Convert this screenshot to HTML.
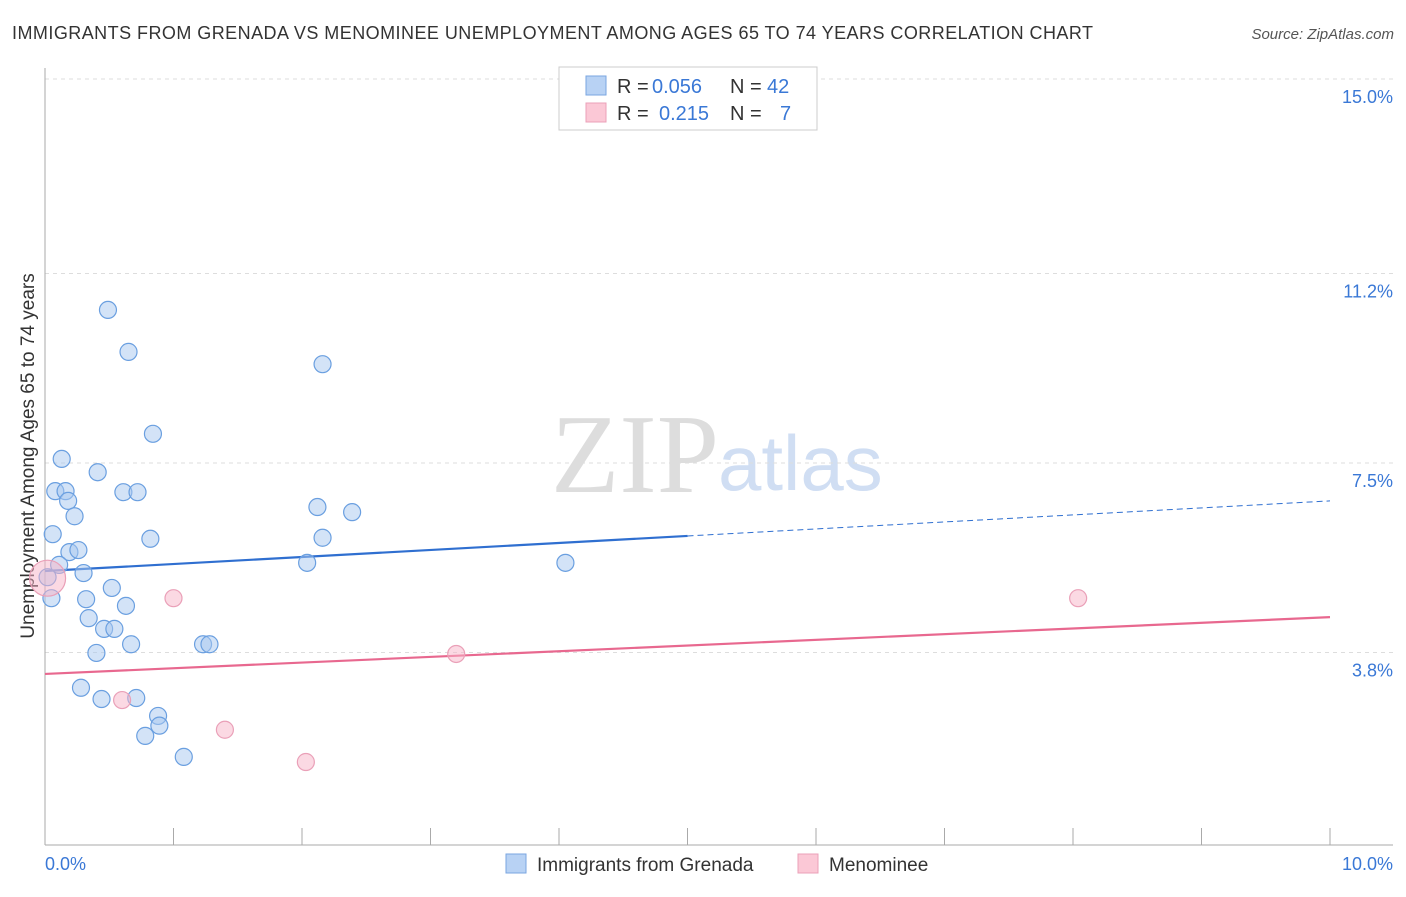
<!DOCTYPE html>
<html><head><meta charset="utf-8"><style>
body{margin:0;background:#fff;font-family:"Liberation Sans",sans-serif;}
svg text{font-family:"Liberation Sans",sans-serif;}
</style></head><body>
<svg id="chart" width="1406" height="892" viewBox="0 0 1406 892">
<text x="12" y="39" font-size="18" fill="#333" textLength="1081">IMMIGRANTS FROM GRENADA VS MENOMINEE UNEMPLOYMENT AMONG AGES 65 TO 74 YEARS CORRELATION CHART</text>
<text x="1394" y="39" font-size="15" fill="#555" font-style="italic" text-anchor="end">Source: ZipAtlas.com</text>
<text transform="translate(34,456) rotate(-90)" font-size="19" fill="#333" text-anchor="middle">Unemployment Among Ages 65 to 74 years</text>
<text x="635" y="492" font-size="112" fill="#ddd" text-anchor="middle" style="font-family:'Liberation Serif',serif">ZIP</text>
<text x="718" y="490" font-size="78" fill="#d0def3">atlas</text>
<g id="grid"></g><g id="axes"></g><g id="lines"></g><g id="points"></g>
<g>
<rect x="559" y="67" width="258" height="63" fill="#fff" stroke="#ccc"/>
<rect x="586" y="76" width="20" height="19" fill="#b8d2f4" stroke="#7aa6e0"/>
<rect x="586" y="103" width="20" height="19" fill="#fbc8d6" stroke="#eba0b8"/>
<text x="617" y="93" font-size="20" fill="#333">R =</text>
<text x="652" y="93" font-size="20" fill="#3a78d6">0.056</text>
<text x="730" y="93" font-size="20" fill="#333">N =</text>
<text x="767" y="93" font-size="20" fill="#3a78d6">42</text>
<text x="617" y="120" font-size="20" fill="#333">R =</text>
<text x="659" y="120" font-size="20" fill="#3a78d6">0.215</text>
<text x="730" y="120" font-size="20" fill="#333">N =</text>
<text x="780" y="120" font-size="20" fill="#3a78d6">7</text>
</g>
<g>
<rect x="506" y="854" width="20" height="19" fill="#b8d2f4" stroke="#7aa6e0"/>
<text x="537" y="871" font-size="19" fill="#333">Immigrants from Grenada</text>
<rect x="798" y="854" width="20" height="19" fill="#fbc8d6" stroke="#eba0b8"/>
<text x="829" y="871" font-size="19" fill="#333">Menominee</text>
</g>
</svg>
<script>
const yTicks=[15.0,11.2,7.5,3.8];
const yTickLabels=["15.0%","11.2%","7.5%","3.8%"];
const xLabels=["0.0%","10.0%"];
const blueX=[0.49,0.65,2.16,0.84,0.13,0.41,0.08,0.16,0.61,0.72,0.18,0.23,2.12,2.39,0.06,0.82,2.16,0.19,0.26,0.11,2.04,4.05,0.30,0.02,0.52,0.05,0.32,0.63,0.34,0.46,0.54,0.67,1.23,1.28,0.40,0.28,0.44,0.71,0.88,0.89,0.78,1.08];
const blueY=[10.49,9.67,9.43,8.07,7.58,7.32,6.95,6.95,6.93,6.93,6.76,6.46,6.64,6.54,6.11,6.02,6.04,5.76,5.80,5.51,5.55,5.55,5.35,5.27,5.06,4.86,4.84,4.71,4.47,4.26,4.26,3.96,3.96,3.96,3.79,3.11,2.89,2.91,2.56,2.37,2.17,1.76];
const pinkX=[0.02,1.00,3.20,8.04,0.60,1.40,2.03];
const pinkY=[5.25,4.86,3.77,4.86,2.87,2.29,1.66];
const blueTrend=[5.39,6.76];
const pinkTrend=[3.38,4.49];
const NS="http://www.w3.org/2000/svg";
const X=v=>45+v*128.5;
const Y=v=>79+(15-v)*51.2;
function mk(t,a,p){const e=document.createElementNS(NS,t);for(const k in a)e.setAttribute(k,a[k]);p.appendChild(e);return e;}
const grid=document.getElementById('grid'),axes=document.getElementById('axes'),lines=document.getElementById('lines'),pts=document.getElementById('points');
yTicks.forEach((t,i)=>{
 const l=mk('line',{x1:45,x2:1393,y1:Y(t),y2:Y(t),stroke:'#ddd','stroke-dasharray':'4,4'},grid);
 
 
 const tx=mk('text',{x:1393,y:Y(t)+24,'font-size':18,fill:'#3a78d6','text-anchor':'end'},axes);
 tx.textContent=yTickLabels[i];
 
 
});
mk('line',{x1:45,x2:45,y1:68,y2:845,stroke:'#aaa'},axes);
mk('line',{x1:45,x2:1393,y1:845,y2:845,stroke:'#aaa'},axes);
for(let i=1;i<=10;i++){const t=mk('line',{x1:X(i),x2:X(i),y1:828,y2:845,stroke:'#aaa'},axes);
 
 }
const xl0=mk('text',{x:45,y:870,'font-size':18,fill:'#3a78d6'},axes);xl0.textContent=xLabels[0];


const xl1=mk('text',{x:1393,y:870,'font-size':18,fill:'#3a78d6','text-anchor':'end'},axes);xl1.textContent=xLabels[1];


function bt(x){return blueTrend[0]+(blueTrend[1]-blueTrend[0])*x/10;}
const b1=mk('line',{x1:X(0),y1:Y(bt(0)),x2:X(5),y2:Y(bt(5)),stroke:'#2f6fd0','stroke-width':2.2},lines);


const b2=mk('line',{x1:X(5),y1:Y(bt(5)),x2:X(10),y2:Y(bt(10)),stroke:'#2f6fd0','stroke-width':1,'stroke-dasharray':'6,4'},lines);


const p1=mk('line',{x1:X(0),y1:Y(pinkTrend[0]),x2:X(10),y2:Y(pinkTrend[1]),stroke:'#e8688f','stroke-width':2.2},lines);


blueX.forEach((x,i)=>{const c=mk('circle',{cx:X(x),cy:Y(blueY[i]),r:8.5,fill:'rgba(168,200,240,0.5)',stroke:'#6a9fe0','stroke-width':1.2},pts);
 
 });
pinkX.forEach((x,i)=>{const c=mk('circle',{cx:X(x),cy:Y(pinkY[i]),r:i==0?18:8.5,fill:'rgba(248,180,200,0.5)',stroke:'#eaa0b8','stroke-width':1.2},pts);
 
 });
</script>
</body></html>
